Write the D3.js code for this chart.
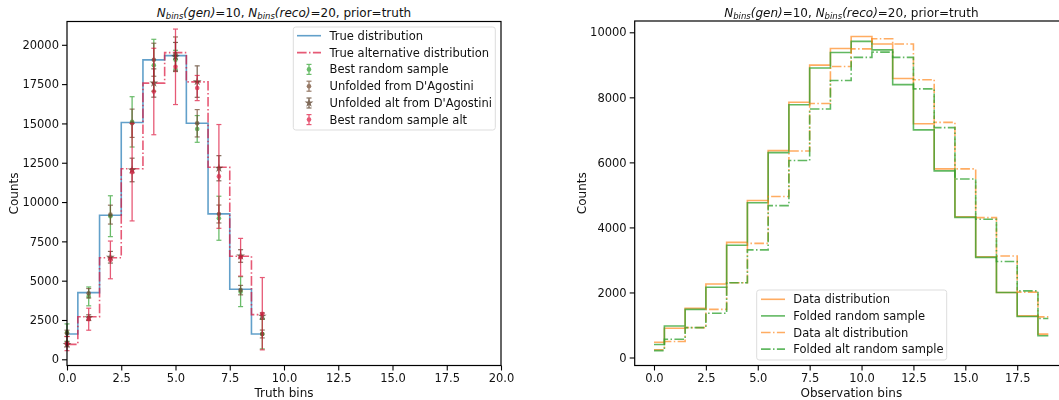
<!DOCTYPE html>
<html><head><meta charset="utf-8">
<script src="https://cdn.jsdelivr.net/npm/d3@7"></script>
<style>body{margin:0;background:#fff}svg{display:block}text{font-family:"DejaVu Sans",sans-serif}</style>
</head><body><svg id="c" width="1059" height="400"></svg>
<script>
// ---------- data ----------
const truthBins = [0,1,2,3,4,5,6,7,8,9];
const trueDist = [1610, 4240, 9160, 15060, 19040, 19310, 15010, 9250, 4450, 1610];
const trueAltDist = [950, 2710, 6460, 12120, 17560, 19500, 17640, 12210, 6550, 2840];
const bestSample = [1700, 4000, 9100, 15100, 18700, 19050, 14650, 8970, 4300, 1610];
const bestSampleErr = [550, 600, 1300, 1600, 1650, 600, 850, 1400, 950, 950];
const unfolded = [1650, 4200, 9200, 15010, 19050, 19400, 15010, 9240, 4400, 1610];
const unfoldedErr = [200, 300, 600, 900, 1050, 1100, 870, 570, 300, 250];
const unfoldedAlt = [950, 2650, 6490, 12040, 17570, 19250, 17660, 12150, 6570, 2750];
const unfoldedAltErr = [150, 180, 370, 750, 900, 900, 1000, 800, 400, 200];
const bestAlt = [1000, 2550, 6320, 11900, 17030, 18600, 17250, 11630, 6490, 2900];
const bestAltErr = [450, 700, 1200, 3100, 2750, 2400, 800, 3300, 1200, 2300];

const obsBins = [0,1,2,3,4,5,6,7,8,9,10,11,12,13,14,15,16,17,18,19];
const dataDist = [470, 900, 1510, 2260, 3540, 4830, 6360, 7850, 8990, 9500, 9870, 9640, 8580, 7190, 5800, 4330, 3100, 2000, 1280, 720];
const foldedSample = [400, 970, 1480, 2160, 3450, 4760, 6300, 7770, 8900, 9380, 9720, 9460, 8390, 7000, 5740, 4310, 3080, 2000, 1260, 670];
const dataAltDist = [240, 490, 920, 1480, 2300, 3510, 4950, 6350, 7810, 8950, 9490, 9800, 9640, 8540, 7230, 5800, 4300, 3120, 2010, 1250];
const foldedAltSample = [210, 560, 920, 1360, 2300, 3310, 4670, 6060, 7640, 8520, 9230, 9390, 9230, 8260, 7070, 5490, 4250, 2950, 2050, 1200];

const leftXTicks = [0, 2.5, 5, 7.5, 10, 12.5, 15, 17.5, 20];
const leftYTicks = [0, 2500, 5000, 7500, 10000, 12500, 15000, 17500, 20000];
const rightXTicks = [0, 2.5, 5, 7.5, 10, 12.5, 15, 17.5];
const rightYTicks = [0, 2000, 4000, 6000, 8000, 10000];

const leftLabels = ["True distribution","True alternative distribution","Best random sample","Unfolded from D'Agostini","Unfolded alt from D'Agostini","Best random sample alt"];
const rightLabels = ["Data distribution","Folded random sample","Data alt distribution","Folded alt random sample"];

// ---------- styling ----------
const FS = 11.5;
const DASHDOT = "9.6,2.4,1.5,2.4";
const BLUE = "#1f77b4", RED = "crimson", GREEN = "#2ca02c", BROWN = "#6b4226", DBROWN = "#4a2c14", ORANGE = "#ff7f0e";

const svg = d3.select("#c");

// ---------- scales ----------
const L = {left: 67, right: 501, top: 21.5, bottom: 365.5};
const R = {left: 634.7, right: 1068, top: 21, bottom: 365.5};
const xL = d3.scaleLinear().domain([0, 20]).range([L.left, L.right]);
const yL = d3.scaleLinear().domain([0, 20000]).range([359.3, 44.8]);
const xR = d3.scaleLinear().domain([0, 17.5]).range([654, 1017.2]);
const yR = d3.scaleLinear().domain([0, 10000]).range([357.5, 32.3]);

function frame(b) {
  svg.append("rect").attr("x", b.left).attr("y", b.top).attr("width", b.right - b.left).attr("height", b.bottom - b.top)
    .attr("fill", "none").attr("stroke", "#000").attr("stroke-width", 1.2);
}
function axes(b, x, y, xt, yt, yfmt, xlabel) {
  const gx = svg.append("g").attr("transform", `translate(0,${b.bottom})`)
    .call(d3.axisBottom(x).tickValues(xt).tickFormat(d3.format(".1f")).tickSize(5).tickPadding(3));
  const gy = svg.append("g").attr("transform", `translate(${b.left},0)`)
    .call(d3.axisLeft(y).tickValues(yt).tickFormat(yfmt).tickSize(5).tickPadding(3));
  [gx, gy].forEach(g => {
    g.select(".domain").remove();
    g.selectAll("line").attr("stroke", "#000").attr("stroke-width", 1.1);
    g.selectAll("text").attr("font-size", FS).attr("fill", "#111").style("font-family", "DejaVu Sans");
  });
  svg.append("text").attr("x", (b.left + Math.min(b.right, 1068)) / 2).attr("y", 397).attr("text-anchor", "middle")
    .attr("font-size", FS + 0.5).attr("fill", "#111").text(xlabel);
  svg.append("text").attr("transform", `translate(${b.left - 49},${(b.top + b.bottom) / 2}) rotate(-90)`)
    .attr("text-anchor", "middle").attr("font-size", FS + 0.5).attr("fill", "#111").text("Counts");
}
function title(cx) {
  const t = svg.append("text").attr("x", cx).attr("y", 16.5).attr("text-anchor", "middle").attr("font-size", 12).attr("fill", "#111");
  t.append("tspan").attr("font-style", "italic").text("N");
  t.append("tspan").attr("font-style", "italic").attr("font-size", 8.5).attr("dy", 2.5).text("bins");
  t.append("tspan").attr("font-style", "italic").attr("dy", -2.5).text("(gen)");
  t.append("tspan").text("=10, ");
  t.append("tspan").attr("font-style", "italic").text("N");
  t.append("tspan").attr("font-style", "italic").attr("font-size", 8.5).attr("dy", 2.5).text("bins");
  t.append("tspan").attr("font-style", "italic").attr("dy", -2.5).text("(reco)");
  t.append("tspan").text("=20, prior=truth");
}
function step(xs, vals, x, y, color, dash, op) {
  const line = d3.line().x((d, i) => x(xs[i])).y(d => y(d)).curve(d3.curveStep);
  svg.append("path").attr("d", line(vals)).attr("fill", "none").attr("stroke", color)
    .attr("stroke-width", 1.6).attr("stroke-opacity", op).attr("stroke-dasharray", dash || null);
}
function errbars(xs, vals, errs, color, op, marker) {
  const g = svg.append("g").attr("opacity", op);
  xs.forEach((xv, i) => {
    const cx = xL(xv), y1 = yL(vals[i] + errs[i]), y2 = yL(vals[i] - errs[i]);
    g.append("line").attr("x1", cx).attr("x2", cx).attr("y1", y1).attr("y2", y2).attr("stroke", color).attr("stroke-width", 1.3);
    [y1, y2].forEach(yy => g.append("line").attr("x1", cx - 2.5).attr("x2", cx + 2.5).attr("y1", yy).attr("y2", yy).attr("stroke", color).attr("stroke-width", 1.2));
    drawMarker(g, cx, yL(vals[i]), color, marker);
  });
}
function drawMarker(g, cx, cy, color, marker) {
  if (marker === "star") {
    g.append("path").attr("d", d3.symbol(d3.symbolStar, 24)()).attr("transform", `translate(${cx},${cy})`).attr("fill", color);
  } else {
    g.append("circle").attr("cx", cx).attr("cy", cy).attr("r", 2.3).attr("fill", color);
  }
}

// ---------- left panel ----------
title((L.left + L.right) / 2);
step(truthBins, trueDist, xL, yL, BLUE, null, 0.7);
step(truthBins, trueAltDist, xL, yL, RED, DASHDOT, 0.7);
errbars(truthBins, bestSample, bestSampleErr, GREEN, 0.7, "dot");
errbars(truthBins, unfolded, unfoldedErr, BROWN, 0.7, "dot");
errbars(truthBins, unfoldedAlt, unfoldedAltErr, DBROWN, 0.7, "star");
errbars(truthBins, bestAlt, bestAltErr, RED, 0.7, "dot");
frame(L);
axes(L, xL, yL, leftXTicks, leftYTicks, d3.format("d"), "Truth bins");

// left legend
const lg = svg.append("g");
lg.append("rect").attr("x", 293.3).attr("y", 27).attr("width", 202).attr("height", 103).attr("rx", 2.5)
  .attr("fill", "#fff").attr("fill-opacity", 0.8).attr("stroke", "#ddd").attr("stroke-width", 1);
const lRows = [35.7, 52.6, 69.4, 86.2, 103, 119.6];
const lStyles = [
  {t: "line", c: BLUE, dash: null, op: 0.7},
  {t: "line", c: RED, dash: DASHDOT, op: 0.7},
  {t: "err", c: GREEN, m: "dot", op: 0.7},
  {t: "err", c: BROWN, m: "dot", op: 0.7},
  {t: "err", c: DBROWN, m: "star", op: 0.7},
  {t: "err", c: RED, m: "dot", op: 0.7}
];
leftLabels.forEach((lab, i) => {
  const yy = lRows[i], s = lStyles[i];
  if (s.t === "line") {
    lg.append("line").attr("x1", 297).attr("x2", 321).attr("y1", yy).attr("y2", yy).attr("stroke", s.c)
      .attr("stroke-width", 1.6).attr("stroke-opacity", s.op).attr("stroke-dasharray", s.dash);
  } else {
    const g = lg.append("g").attr("opacity", s.op);
    g.append("line").attr("x1", 309).attr("x2", 309).attr("y1", yy - 5).attr("y2", yy + 5).attr("stroke", s.c).attr("stroke-width", 1.3);
    [yy - 5, yy + 5].forEach(v => g.append("line").attr("x1", 306.5).attr("x2", 311.5).attr("y1", v).attr("y2", v).attr("stroke", s.c).attr("stroke-width", 1.2));
    drawMarker(g, 309, yy, s.c, s.m);
  }
  lg.append("text").attr("x", 329.5).attr("y", yy).attr("dy", "0.35em").attr("font-size", FS).attr("fill", "#111").text(lab);
});

// ---------- right panel ----------
title((R.left + R.right) / 2);
step(obsBins, dataDist, xR, yR, ORANGE, null, 0.65);
step(obsBins, foldedSample, xR, yR, GREEN, null, 0.75);
step(obsBins, dataAltDist, xR, yR, ORANGE, DASHDOT, 0.65);
step(obsBins, foldedAltSample, xR, yR, GREEN, DASHDOT, 0.75);
frame(R);
axes(R, xR, yR, rightXTicks, rightYTicks, d3.format("d"), "Observation bins");

const rg = svg.append("g");
rg.append("rect").attr("x", 756.7).attr("y", 290).attr("width", 190).attr("height", 70).attr("rx", 2.5)
  .attr("fill", "#fff").attr("fill-opacity", 0.8).attr("stroke", "#ddd").attr("stroke-width", 1);
const rRows = [299.3, 315.9, 332.5, 349.1];
const rStyles = [
  {c: ORANGE, dash: null, op: 0.65}, {c: GREEN, dash: null, op: 0.75},
  {c: ORANGE, dash: DASHDOT, op: 0.65}, {c: GREEN, dash: DASHDOT, op: 0.75}
];
rightLabels.forEach((lab, i) => {
  const yy = rRows[i], s = rStyles[i];
  rg.append("line").attr("x1", 761).attr("x2", 785).attr("y1", yy).attr("y2", yy).attr("stroke", s.c)
    .attr("stroke-width", 1.6).attr("stroke-opacity", s.op).attr("stroke-dasharray", s.dash);
  rg.append("text").attr("x", 793.3).attr("y", yy).attr("dy", "0.35em").attr("font-size", FS).attr("fill", "#111").text(lab);
});
</script></body></html>
